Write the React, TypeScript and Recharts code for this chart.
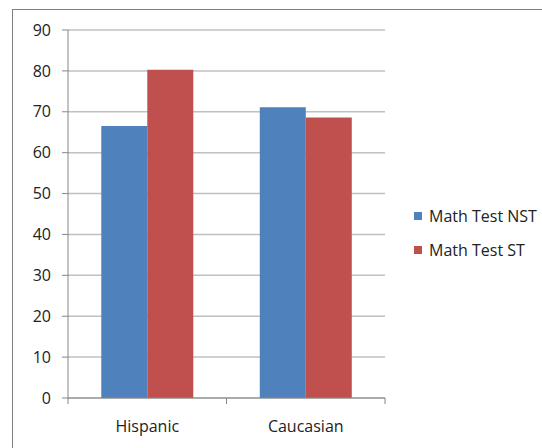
import { BarChart, Bar, XAxis, YAxis, CartesianGrid } from "recharts";

const groups = ["Hispanic", "Caucasian"];
const nstScores = [66.5, 71.1];
const stScores = [80.3, 68.6];
const yTicks = [0, 10, 20, 30, 40, 50, 60, 70, 80, 90];

const FONT = "'Open Sans', sans-serif";
const AXIS = "#868686";
const series = [
  { key: "nst", name: "Math Test NST", color: "#4f81bd" },
  { key: "st", name: "Math Test ST", color: "#c0504d" },
];

const data = groups.map((group, i) => ({
  group,
  nst: nstScores[i],
  st: stScores[i],
}));

// category label plus tick marks on the band edges, like a spreadsheet chart
function GroupTick(props: any) {
  const { x, y, payload, index } = props;
  const half = payload.offset ?? 0;
  const top = y - 8;
  return (
    <g>
      <line x1={x - half} x2={x - half} y1={top} y2={top + 6} stroke={AXIS} />
      {index === groups.length - 1 && (
        <line x1={x + half} x2={x + half} y1={top} y2={top + 6} stroke={AXIS} />
      )}
      <text x={x} y={y + 26} textAnchor="middle" fontSize={16} fontFamily={FONT} fill="#222">
        {payload.value}
      </text>
    </g>
  );
}

function SideLegend() {
  return (
    <div style={{ position: "absolute", left: 414, top: 199, fontFamily: FONT, fontSize: 16, color: "#222" }}>
      {series.map((s) => (
        <div key={s.key} style={{ display: "flex", alignItems: "center", height: 34 }}>
          <span style={{ width: 8, height: 8, background: s.color, marginRight: 7 }} />
          {s.name}
        </div>
      ))}
    </div>
  );
}

export default function App() {
  return (
    <div style={{ position: "fixed", left: 0, top: 0, width: 542, height: 448, background: "#fff", overflow: "hidden" }}>
      <div
        style={{
          position: "absolute",
          left: 12,
          top: 9,
          width: 600,
          height: 500,
          border: "1px solid #808080",
        }}
      />
      <div style={{ position: "absolute", left: 0, top: 0 }}>
        <BarChart
          width={542}
          height={448}
          data={data}
          margin={{ top: 30, right: 157, bottom: 20, left: 0 }}
          barCategoryGap="21%"
          barGap={0}
        >
          <CartesianGrid horizontal vertical={false} stroke="#c0c0c0" strokeWidth={1.5} />
          <XAxis
            dataKey="group"
            height={30}
            stroke={AXIS}
            tickLine={false}
            tick={<GroupTick />}
            interval={0}
          />
          <YAxis
            width={68}
            domain={[0, 90]}
            ticks={yTicks}
            stroke={AXIS}
            tickSize={6}
            tickMargin={11}
            tick={{ fontSize: 16, fontFamily: FONT, fill: "#222" }}
          />
          {series.map((s) => (
            <Bar key={s.key} dataKey={s.key} name={s.name} fill={s.color} isAnimationActive={false} />
          ))}
        </BarChart>
      </div>
      <SideLegend />
    </div>
  );
}
